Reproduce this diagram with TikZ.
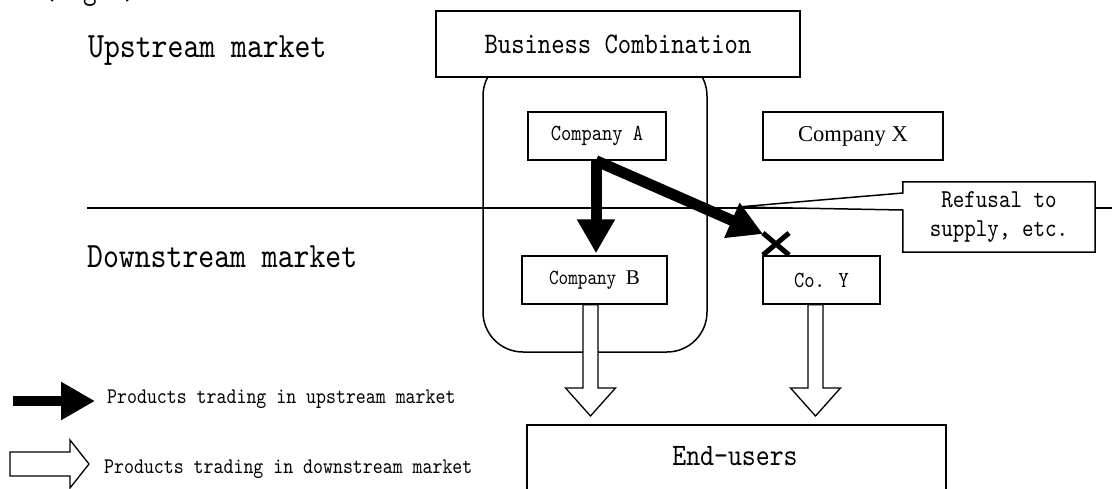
\documentclass[tikz,border=0pt]{standalone}
\usepackage{fontspec}
\setmainfont{Liberation Serif}
% narrow, tall serif monospace for the half-width Latin look
\newfontfamily\cjkmono{lmmono10-regular.otf}[FakeStretch=0.85]
\newcommand\monosize[2]{\cjkmono\fontsize{#1}{#2}\selectfont}
\newcommand\serifsize[1]{\rmfamily\fontsize{#1}{#1}\selectfont}
\usetikzlibrary{arrows.meta,calc}

\begin{document}
\begin{tikzpicture}[x=1pt,y=-1pt,
  box/.style={draw, line width=1.5pt, fill=white, inner sep=0pt},
  groupbox/.style={draw, line width=1.5pt, rounded corners=40pt, inner sep=0pt},
  marketline/.style={line width=1.6pt},
  solidflow/.style={line width=11pt, -{Triangle[width=36pt,length=34pt]}},
  refusemark/.style={line width=5pt},
  hollowdown/.style={line width=1.3pt, fill=white,
    to path={let \p1=(\tikztostart), \p2=(\tikztotarget) in
      (\x1-7.5pt,\y1) -- (\x1-7.5pt,\y2+36pt) -- (\x1-25pt,\y2+36pt) --
      (\x1,\y2+8pt) -- (\x1+25pt,\y2+36pt) -- (\x1+7.5pt,\y2+36pt) --
      (\x1+7.5pt,\y1) -- cycle}},
  hollowright/.style={line width=1.3pt, fill=white,
    to path={let \p1=(\tikztostart), \p2=(\tikztotarget) in
      (\x1,\y1+12pt) -- (\x2-19pt,\y1+12pt) -- (\x2-19pt,\y1+24pt) --
      (\x2,\y1) -- (\x2-19pt,\y1-24pt) -- (\x2-19pt,\y1-12pt) --
      (\x1,\y1-12pt) -- cycle}}
]
\useasboundingbox (0,0) rectangle (1112,488);

% titles and market labels
\node[anchor=base west, inner sep=0, font={\monosize{30.5}{30.5}}] (fig) at (42,-1) {(Fig.2)};
\node[anchor=base west, inner sep=0, font={\monosize{35.6}{35.6}}] (up) at (88,57) {Upstream market};
\node[anchor=base west, inner sep=0, font={\monosize{35.6}{35.6}}] (down) at (87,267) {Downstream market};

% the merged group
\node[groupbox, minimum width=224, minimum height=296] (grp) at (595,204) {};

% boundary between the two markets
\coordinate (mlL) at (87,208);
\coordinate (mlR) at (1112,208);
\draw[marketline] (mlL) -- (mlR);

% firms
\node[box, minimum width=364, minimum height=66, font={\monosize{29.9}{29.9}}] (BC) at (618,44) {Business Combination};
\node[box, minimum width=138, minimum height=48, font={\monosize{23}{23}}] (A) at (597,136) {Company A};
\node[box, minimum width=145, minimum height=48, font={\monosize{21.5}{21.5}}] (B) at (594.5,280) {Company {\serifsize{21}B}};
\node[box, minimum width=180, minimum height=48, font={\serifsize{22.6}}] (X) at (853,136) {Company X};
\node[box, minimum width=117, minimum height=48, font={\monosize{23}{23}}] (Y) at (821.5,280) {Co. Y};

% callout
\node[minimum width=192, minimum height=70, inner sep=0] (R) at (999,217) {};
\coordinate (ptr) at (738,207);
\draw[line width=1.5pt, fill=white] (R.north west) -- (R.north east) -- (R.south east)
  -- (R.south west) -- ($(R.west)+(0,-7)$) -- (ptr) -- ($(R.west)+(0,-24)$) -- cycle;
\node[align=center, inner sep=0, font={\monosize{25.8}{29}}] (Rtext) at (R) {Refusal to\\supply, etc.};

% upstream supply
\coordinate (split) at ($(A.south)+(-1,0)$);
\coordinate (block) at (763,234);
\draw[solidflow, shorten >=2pt] (split) -- (split |- B.north);
\draw[solidflow] (split) -- (block);

% refusal mark
\coordinate (cross) at (776,244);
\draw[refusemark] ($(cross)+(-13,-11)$) -- ($(cross)+(13,11)$);
\draw[refusemark] ($(cross)+(-13,11)$) -- ($(cross)+(13,-11)$);

% end-users and downstream sales
\node[box, minimum width=419, minimum height=80, anchor=north] (EU) at (736.5,424) {};
\node[anchor=base, inner sep=0, font={\monosize{31.2}{31.2}}] (EUt) at (735,465) {End-users};
\draw[hollowdown] ($(B.south)+(-4,0)$) to (EU.north);
\draw[hollowdown] ($(Y.south)+(-6,0)$) to (EU.north);

% legend
\coordinate (k1s) at (13,401);
\coordinate (k1e) at (95,401);
\draw[solidflow, line width=10.5pt] (k1s) -- (k1e);
\node[anchor=base west, inner sep=0, font={\monosize{22.3}{22.3}}] (k1) at (107,403) {Products trading in upstream market};
\coordinate (k2s) at (10,464);
\coordinate (k2e) at (89,464);
\draw[hollowright] (k2s) to (k2e);
\node[anchor=base west, inner sep=0, font={\monosize{22.3}{22.3}}] (k2) at (104,473) {Products trading in downstream market};
\end{tikzpicture}
\end{document}
